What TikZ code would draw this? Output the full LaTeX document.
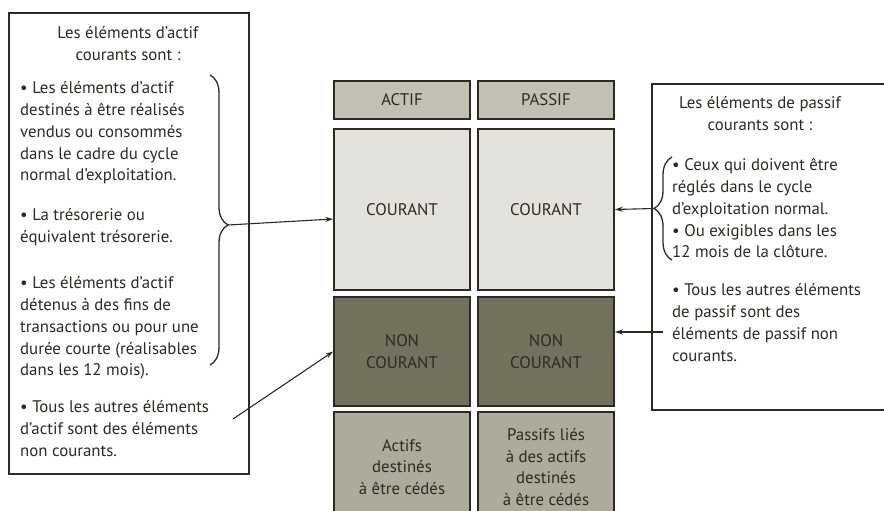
\documentclass[tikz,border=0pt]{standalone}
\usepackage{fontspec}
\setmainfont{PT Sans}
\usetikzlibrary{arrows.meta,decorations.pathreplacing}
\definecolor{ink}{HTML}{2E2A22}
\definecolor{headfill}{HTML}{C3C1B5}
\definecolor{courfill}{HTML}{E3E2DC}
\definecolor{noncourfill}{HTML}{74715F}
\definecolor{cedefill}{HTML}{AEAB9C}
\begin{document}
\begin{tikzpicture}[x=1pt,y=-1pt,
  every node/.style={text=ink,font=\fontsize{16.8}{21.75}\selectfont},
  cell/.style={draw=ink,line width=1.6pt,minimum width=136pt,align=center,inner sep=0pt},
  para/.style={anchor=north west,align=left,inner sep=0pt},
  fleche/.style={draw=ink,line width=1.1pt,-{Stealth[length=8pt,width=5pt]}},
  accolade/.style={draw=ink,line width=1.3pt,decorate,decoration={brace,amplitude=18pt}}]
\useasboundingbox (0,0) rectangle (884,511);
% Cells
\node[cell,fill=headfill,minimum height=38pt] (actif) at (402,100) {ACTIF};
\node[cell,fill=headfill,minimum height=38pt] (passif) at (546,100) {PASSIF};
\node[cell,fill=courfill,minimum height=161pt] (acour) at (402,209.5) {COURANT};
\node[cell,fill=courfill,minimum height=161pt] (pcour) at (546,209.5) {COURANT};
\node[cell,fill=noncourfill,minimum height=109pt] (anon) at (402,351.5) {NON\\COURANT};
\node[cell,fill=noncourfill,minimum height=109pt] (pnon) at (546,351.5) {NON\\COURANT};
\node[cell,fill=cedefill,minimum height=110pt] (acede) at (402,467) {Actifs\\destinés\\à être cédés};
\node[cell,fill=cedefill,minimum height=110pt] (pcede) at (546,467) {Passifs liés\\à des actifs\\destinés\\à être cédés};
% Boxes
\draw[ink,line width=1.5pt] (9,13) rectangle (249,474);
\draw[ink,line width=1.5pt] (884,84) -- (652,84) -- (652,410) -- (884,410);
% Left texts
\node[anchor=north,align=center,inner sep=0pt] (atitre) at (128,26) {Les éléments d’actif\\courants sont :};
\node[para] (areal) at (20,81.5) {• Les éléments d’actif\\destinés à être réalisés\\vendus ou consommés\\dans le cadre du cycle\\normal d’exploitation.};
\node[para] (atreso) at (20,208.5) {• La trésorerie ou\\équivalent trésorerie.};
\node[para] (adetenu) at (20,276.5) {• Les éléments d’actif\\détenus à des fins de\\transactions ou pour une\\durée courte (réalisables\\dans les 12 mois).};
\node[para] (aautres) at (20,400.5) {• Tous les autres éléments\\d’actif sont des éléments\\non courants.};
% Right texts
\node[anchor=north,align=center,inner sep=0pt] (ptitre) at (760,96) {Les éléments de passif\\courants sont :};
\node[para] (pregle) at (672,158.5) {• Ceux qui doivent être\\réglés dans le cycle\\d’exploitation normal.\\• Ou exigibles dans les\\12 mois de la clôture.};
\node[para] (pautres) at (672,283.5) {• Tous les autres éléments\\de passif sont des\\éléments de passif non\\courants.};
% Braces
\draw[accolade,decoration={aspect=0.517}] (210,75) -- (210,365);
\draw[accolade,decoration={aspect=0.5}] (672,260) -- (672,157);
\coordinate (lbrace) at (228,225);
\coordinate (rbrace) at (654,208.5);
\coordinate (lnon) at (233,419);
\coordinate (rnon) at (663,332);
% Arrows
\draw[fleche] (lbrace) -- ([yshift=-9.5pt]acour.west);
\draw[fleche] (lnon) -- (anon.west);
\draw[fleche] (rbrace) -- (pcour.east);
\draw[fleche] (rnon) -- (rnon -| pnon.east);
\end{tikzpicture}
\end{document}
